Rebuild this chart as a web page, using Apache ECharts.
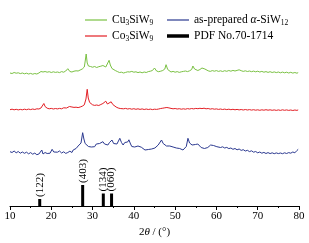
<!DOCTYPE html>
<html><head><meta charset="utf-8">
<script src="https://cdn.jsdelivr.net/npm/echarts@6/dist/echarts.min.js"></script>
<style>html,body{margin:0;padding:0;background:#fff}#c{width:309px;height:243px}</style>
</head><body><div id="c"></div>
<script>
// 2θ (deg), intensity (offset, arbitrary units)
const cuSiW9 = [[10,133],[10.5,132.5],[11,133.5],[11.5,132.8],[12,133.2],[12.5,132.4],[13,133],[13.5,132.2],[14,132.8],[14.5,132],[15,132.6],[15.5,131.8],[16,132.5],[16.5,132],[17,133],[17.5,134.5],[17.75,136],[18,134],[18.5,134.5],[19,133.8],[19.5,134.3],[20,133.5],[20.5,134.2],[21,133.6],[21.5,134],[22,133.4],[22.5,134.4],[23,133.8],[23.5,135],[24,137.3],[24.5,134.5],[25,134],[25.5,134.8],[26,135.2],[26.5,135],[27,136],[27.5,137],[28,139],[28.25,146],[28.45,152],[28.7,143],[29,140],[29.5,139.5],[30,138.8],[30.5,139.5],[31,138.5],[31.5,139.3],[32,139.8],[32.5,140.5],[32.8,142.3],[33.2,139],[33.6,140],[34,145.7],[34.3,141],[34.7,137.5],[35,136.5],[35.5,135.5],[36,134.5],[36.5,133.5],[37,133.8],[37.5,133],[38,133.6],[38.5,134.2],[39,134],[39.5,134.6],[40,133.8],[40.5,134.2],[41,133.4],[41.5,134],[42,133.2],[42.5,134],[43,133.5],[43.5,134.4],[44,134.8],[44.5,135.5],[45,138],[45.5,135],[46,134.3],[46.5,134.8],[47,135.5],[47.5,137],[47.8,141.3],[48.2,136.5],[48.5,134.5],[49,134],[49.5,134.6],[50,133.8],[50.5,134.4],[51,133.6],[51.5,134.2],[52,134.6],[52.5,135],[53,134.4],[53.5,135.2],[54,136.5],[54.3,140],[54.7,137],[55,136.5],[55.5,135.5],[56,136.5],[56.5,138],[56.8,140],[57.2,137],[57.5,135.8],[58,135.2],[58.5,134.6],[59,135.4],[59.5,134.8],[60,135.4],[60.5,134.6],[61,135.2],[61.5,134.5],[62,135.3],[62.5,134.7],[63,135.5],[63.5,134.8],[64,135.6],[64.5,135],[65,135.6],[65.5,136.2],[66,135.3],[66.5,134.6],[67,135.2],[67.5,134.5],[68,135],[68.5,134.3],[69,134.9],[69.5,134.2],[70,134.8],[70.5,134],[71,134.6],[71.5,133.8],[72,134.4],[72.5,133.6],[73,134.3],[73.5,133.5],[74,134.1],[74.5,133.4],[75,134],[75.5,133.2],[76,133.9],[76.5,133.2],[77,133.8],[77.5,133],[78,133.7],[78.5,132.9],[79,133.5],[79.5,132.8],[79.8,133.4]];

const coSiW9 = [[10,96.3],[10.5,96.8],[11,96.2],[11.5,96.7],[12,96.1],[12.5,96.6],[13,96.2],[13.5,96.8],[14,96.3],[14.5,96.9],[15,96.4],[15.5,97],[16,96.5],[16.5,97.2],[17,97],[17.5,98],[17.9,100],[18.2,102.5],[18.5,99.5],[19,97.8],[19.5,97.2],[20,97.6],[20.5,97],[21,97.5],[21.5,97.1],[22,97.6],[22.5,97.2],[23,98.2],[23.3,99.3],[23.7,98],[24,98.5],[24.4,99.5],[24.7,100.8],[25,99],[25.5,98.6],[26,98.8],[26.5,98.4],[27,99],[27.5,99.8],[28,101.2],[28.4,107],[28.7,116.7],[28.95,108],[29.3,103.5],[29.7,101.5],[30,101.2],[30.5,100.6],[31,101],[31.5,100.5],[32,101.5],[32.5,102.5],[33.2,104.8],[33.6,102],[34,102.5],[34.5,104.2],[34.9,101.5],[35.3,100],[35.7,99],[36.2,98],[36.7,97.5],[37,97.8],[37.5,97.2],[38,97.6],[38.5,97],[39,97.4],[39.5,96.8],[40,97.3],[40.5,96.7],[41,97.2],[41.5,96.6],[42,97.1],[42.5,96.5],[43,97],[43.5,96.5],[44,96.9],[44.5,96.4],[45,96.8],[45.5,96.6],[46,97],[46.5,97.5],[47,97.8],[47.5,98.2],[48,98.5],[48.5,98.1],[49,97.6],[49.5,97.2],[50,97.5],[50.5,97],[51,97.3],[51.5,96.8],[52,97.2],[52.5,96.8],[53,97.4],[53.5,97],[54,97.5],[54.5,97.1],[55,97.6],[55.5,97.3],[56,97.7],[56.5,97.4],[57,97.8],[57.5,97.2],[58,97.5],[58.5,96.9],[59,97.3],[59.5,96.8],[60,97.1],[60.5,96.6],[61,97],[61.5,96.5],[62,96.9],[62.5,96.4],[63,96.8],[63.5,96.3],[64,96.7],[64.5,96.2],[65,96.6],[65.5,96.1],[66,96.5],[66.5,96],[67,96.5],[67.5,96],[68,96.4],[68.5,95.9],[69,96.3],[69.5,95.8],[70,96.2],[70.5,95.7],[71,96.2],[71.5,95.8],[72,96.3],[72.5,95.8],[73,96.2],[73.5,95.7],[74,96.1],[74.5,95.6],[75,96.1],[75.5,95.6],[76,96.2],[76.5,95.7],[77,96.1],[77.5,95.6],[78,96],[78.5,95.5],[79,96],[79.5,95.6],[79.8,96.1]];

const alphaSiW12 = [[10,54.3],[10.5,53.5],[11,55],[11.5,53.2],[12,54.5],[12.5,52.8],[13,54],[13.5,52.7],[14,53.8],[14.5,52.2],[15,53.4],[15.5,51.8],[16,52.9],[16.5,51.3],[17,52],[17.3,50.5],[17.7,56],[18,52],[18.5,53.5],[19,52.5],[19.3,54.5],[19.7,52.8],[20.2,56.7],[20.6,54],[21,55.5],[21.5,53.8],[22,55],[22.5,53],[23,54.2],[23.5,52.6],[24,53.5],[24.5,54.8],[25,53.5],[25.3,56],[25.7,55],[26,57.5],[26.5,60],[26.9,59],[27.2,63],[27.6,73.3],[27.9,67],[28.2,62.5],[28.6,61],[29,59.5],[29.4,61.5],[29.7,59],[30.1,60.5],[30.5,59.3],[30.9,62],[31.3,60.5],[31.7,62.5],[32.1,61],[32.5,64.3],[32.9,62],[33.3,63.5],[33.7,61],[34.1,63.5],[34.4,62],[34.7,66],[35.1,62.5],[35.5,64.5],[35.9,62],[36.3,64],[36.6,67.7],[37,63.5],[37.4,61],[37.8,63.5],[38.1,62.5],[38.5,64],[38.8,66.2],[39.2,62],[39.5,59.5],[39.8,57.7],[40.2,59],[40.6,58],[41,60],[41.4,58],[41.8,58.8],[42.2,57],[42.7,56],[43.1,57.5],[43.5,56.5],[43.9,57.7],[44.3,57],[44.7,58.5],[45.1,58],[45.5,59.5],[45.9,61],[46.3,63],[46.7,66],[47.1,62.5],[47.5,61],[47.9,60],[48.3,59.3],[48.7,60],[49.1,58.5],[49.5,59],[49.9,57.5],[50.3,58],[50.7,57],[51.1,57.5],[51.5,56.5],[51.9,56],[52.3,57],[52.7,59.5],[53.1,67.7],[53.5,63],[53.8,61],[54.1,61],[54.5,60.5],[54.9,61.5],[55.2,63.3],[55.5,62],[55.9,60],[56.3,58.5],[56.7,56.7],[57.1,57.5],[57.5,57],[57.9,58.5],[58.3,60],[58.6,61],[58.9,62],[59.3,60.5],[59.7,61],[60.1,59.3],[60.5,60],[61,58.5],[61.5,59.2],[62,58],[62.5,58.6],[63,57.4],[63.5,58],[64,56.7],[64.5,57.5],[65,56.2],[65.5,57],[66,55.6],[66.5,56.3],[67,55],[67.5,55.7],[68,54.4],[68.5,55.2],[69,53.8],[69.5,54.5],[70,53.2],[70.5,54],[71,52.8],[71.5,53.6],[72,52.5],[72.5,53.4],[73,52.4],[73.5,53.2],[74,52.3],[74.5,53.1],[75,52.4],[75.5,53],[76,52.3],[76.5,53.2],[77,52.5],[77.5,53.4],[78,52.8],[78.5,54],[79,53.2],[79.5,55.5],[79.8,56.7]];

const pdfTheta = [17.2, 27.6, 32.6, 34.6];
const pdfHeight = [7, 21, 12.5, 12.5];
const pdfLabels = ['(122)', '(403)', '(134)', '(060)'];
const xTicks = [10, 20, 30, 40, 50, 60, 70, 80];

const FONT = '"Liberation Serif", "Times New Roman", serif';
const richDefs = {
  a: {fontFamily: FONT, fontSize: 11.5, color: '#000'},
  b: {fontFamily: FONT, fontSize: 7.5, color: '#000', verticalAlign: 'bottom', padding: [6, 0, 0, 0]},
  i: {fontFamily: FONT, fontSize: 11.5, color: '#000', fontStyle: 'italic'}
};
const legendText = {
  'Cu3SiW9': '{a|Cu}{b|3}{a|SiW}{b|9}',
  'Co3SiW9': '{a|Co}{b|3}{a|SiW}{b|9}',
  'as-prepared α-SiW12': '{a|as-prepared }{i|α}{a|-SiW}{b|12}',
  'PDF No.70-1714': '{a|PDF No.70-1714}'
};
function mkLegend(name, left, top, h) {
  return {
    data: [name], left: left, top: top, itemWidth: 22, itemHeight: h, itemGap: 5,
    padding: 0, selectedMode: false, icon: 'rect',
    formatter: n => legendText[n],
    textStyle: {rich: richDefs}
  };
}

const chart = echarts.init(document.getElementById('c'), null, {renderer: 'canvas'});
chart.setOption({
  animation: false,
  backgroundColor: '#fff',
  legend: [
    mkLegend('Cu3SiW9', 85, 14, 1.2),
    mkLegend('Co3SiW9', 85, 30, 1.2),
    mkLegend('as-prepared α-SiW12', 167, 14, 1.2),
    mkLegend('PDF No.70-1714', 167, 30, 3.5)
  ],
  grid: {left: 10, right: 10, top: 46, bottom: 37},
  xAxis: {
    type: 'value', min: 10, max: 80, interval: 10,
    axisLine: {lineStyle: {color: '#000', width: 1}},
    axisTick: {length: 4, lineStyle: {color: '#000'}},
    minorTick: {show: true, splitNumber: 2, length: 2, lineStyle: {color: '#000'}},
    splitLine: {show: false},
    axisLabel: {fontFamily: FONT, fontSize: 11, color: '#000', margin: 5,
      formatter: v => xTicks.includes(v) ? String(v) : ''},
    name: '{n|2}{t|θ}{n| / (°)}', nameLocation: 'middle', nameGap: 21,
    nameTextStyle: {rich: {
      n: {fontFamily: FONT, fontSize: 11, color: '#000'},
      t: {fontFamily: FONT, fontSize: 11, color: '#000', fontStyle: 'italic'}
    }}
  },
  yAxis: {type: 'value', min: 0, max: 160, show: false},
  series: [
    {name: 'Cu3SiW9', type: 'line', data: cuSiW9, symbol: 'none', lineStyle: {color: '#7ac143', width: 1}, itemStyle: {color: '#7ac143'}},
    {name: 'Co3SiW9', type: 'line', data: coSiW9, symbol: 'none', lineStyle: {color: '#e31e24', width: 1}, itemStyle: {color: '#e31e24'}},
    {name: 'as-prepared α-SiW12', type: 'line', data: alphaSiW12, symbol: 'none', lineStyle: {color: '#2b3990', width: 1}, itemStyle: {color: '#2b3990'}},
    {name: 'PDF No.70-1714', type: 'bar', barWidth: 3, itemStyle: {color: '#000'},
      data: pdfTheta.map((t, k) => ({value: [t, pdfHeight[k]], label: {formatter: pdfLabels[k]}})),
      label: {show: true, position: 'top', rotate: 90, align: 'left', verticalAlign: 'middle', distance: 2,
        fontFamily: FONT, fontSize: 11, color: '#000'}
    }
  ]
});
</script></body></html>
